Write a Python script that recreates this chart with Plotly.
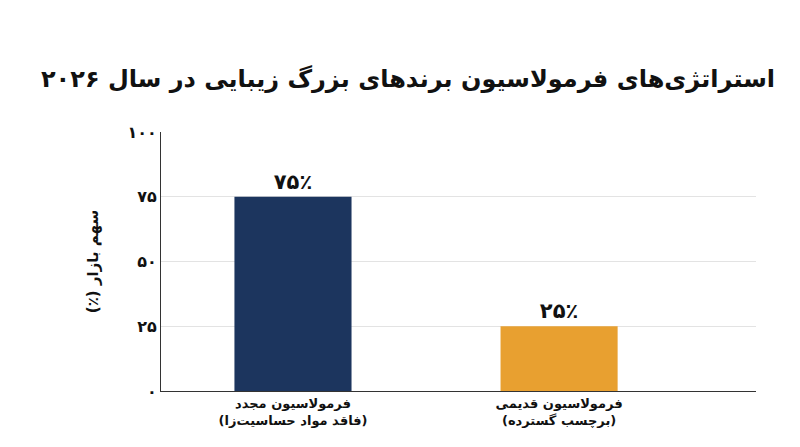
import plotly.graph_objects as go

# === Data ===
categories = ["<b>فرمولاسیون مجدد</b><br><b>(فاقد مواد حساسیت‌زا)\u200f</b>",
              "<b>فرمولاسیون قدیمی</b><br><b>(برچسب گسترده)\u200f</b>"]
values = [75, 25]
value_labels = ["<b>۷۵٪</b>", "<b>۲۵٪</b>"]
bar_colors = ["#1c355e", "#e8a030"]
tick_vals = [0, 25, 50, 75, 100]
tick_text = ["<b>۰</b>", "<b>۲۵</b>", "<b>۵۰</b>", "<b>۷۵</b>", "<b>۱۰۰</b>"]

fig = go.Figure()
fig.add_trace(go.Bar(
    x=[0, 1],
    y=values,
    width=0.44,
    marker=dict(color=bar_colors, line=dict(width=0)),
    text=value_labels,
    textposition="outside",
    textfont=dict(size=21, color="#111", family="DejaVu Sans"),
    cliponaxis=False,
    showlegend=False,
))

fig.update_layout(
    width=800, height=447,
    margin=dict(l=153, r=52, t=124, b=64),
    plot_bgcolor="white", paper_bgcolor="white",
    font=dict(family="DejaVu Sans", color="#111"),
    title=dict(text="<b>استراتژی‌های فرمولاسیون برندهای بزرگ زیبایی در سال ۲۰۲۶</b>",
               x=0.5, y=0.86, xanchor="center", font=dict(size=24)),
)
fig.update_xaxes(
    range=[-0.496, 1.74],
    tickvals=[0, 1], ticktext=categories,
    tickfont=dict(size=13), showline=True, linecolor="#333", linewidth=1,
    showgrid=False, ticks="",
)
fig.update_yaxes(
    range=[0, 100], tickvals=tick_vals, ticktext=tick_text,
    tickfont=dict(size=16), showline=True, linecolor="#333", linewidth=1,
    gridcolor="#e3e3e3", ticks="", zeroline=False,
    title=dict(text="<b>\u200fسهم بازار (٪)\u200f</b>", font=dict(size=15), standoff=25),
)

fig.write_html("out.html")
